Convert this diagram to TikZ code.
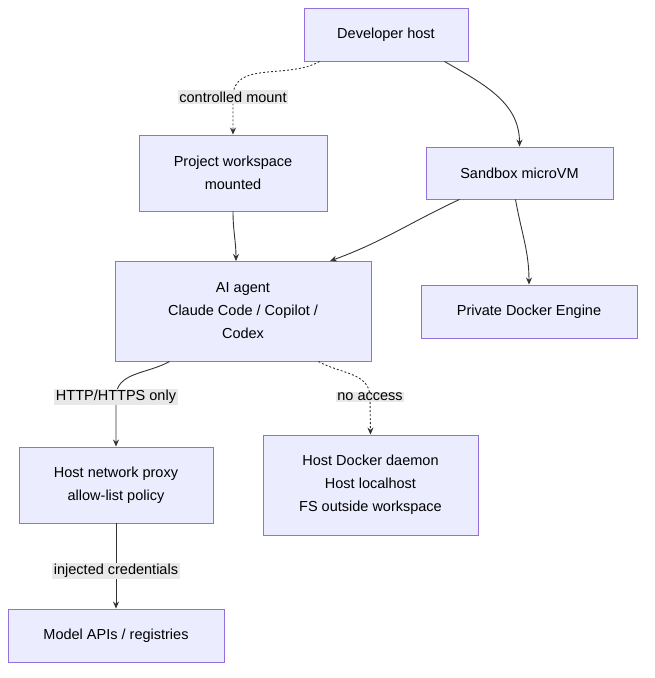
\documentclass[tikz,border=0pt]{standalone}
\usepackage{fontspec}
\setmainfont{Liberation Sans}
\usetikzlibrary{arrows.meta}
\definecolor{boxfill}{HTML}{ECECFF}
\definecolor{boxline}{HTML}{9370DB}
\definecolor{lblfill}{HTML}{E8E8E8}
\definecolor{edge}{HTML}{333333}
\tikzset{
  box/.style={draw=boxline, fill=boxfill, line width=0.9pt, align=center,
    font=\fontsize{14.5}{23}\selectfont, inner sep=0pt},
  lbl/.style={fill=lblfill, font=\fontsize{14.5}{18}\selectfont, inner sep=1.5pt},
  conn/.style={draw=edge, line width=0.9pt, -{Stealth[length=7pt,width=6pt]}},
}
\begin{document}
\begin{tikzpicture}[x=1pt,y=-1pt]
    \useasboundingbox (0,0) rectangle (654,678);

    \node[box, minimum width=164, minimum height=53] (dev) at (386,34.5) {Developer host};
    \node[box, minimum width=188, minimum height=76] (proj) at (233,173) {Project workspace\\mounted};
    \node[box, minimum width=187, minimum height=52] (vm) at (519.5,173) {Sandbox microVM};
    \node[box, minimum width=256, minimum height=100] (agent) at (243,311) {AI agent\\Claude Code / Copilot /\\Codex};
    \node[box, minimum width=216, minimum height=53] (engine) at (529,311.5) {Private Docker Engine};
    \node[box, minimum width=194, minimum height=76] (proxy) at (116,485) {Host network proxy\\allow-list policy};
    \node[box, minimum width=215, minimum height=100] (daemon) at (370.5,485) {Host Docker daemon\\Host localhost\\FS outside workspace};
    \node[box, minimum width=216, minimum height=53] (apis) at (116,635.5) {Model APIs / registries};

    \coordinate (mountlbl) at (233,97);
    \coordinate (httplbl) at (116,397);
    \coordinate (nolbl) at (370,397);
    \coordinate (credlbl) at (116,571);

    % edges
    \draw[conn, dashed, dash pattern=on 2pt off 2pt] (dev.south west)++(16,0) to[out=-150,in=90] (mountlbl) -- (proj.north);
    \draw[conn] (dev.south east)++(-24,0) to[out=-30,in=90] (vm.north);
    \draw[conn] (proj.south) to[out=-90,in=90] (236,261);
    \draw[conn] (vm.south west)++(34,0) to[out=-155,in=20] (330,261);
    \draw[conn] (vm.south)++(-4,0) to[out=-80,in=90] (engine.north);
    \draw[conn] (agent.south west)++(55,0) to[out=-150,in=90] (httplbl) -- (proxy.north);
    \draw[conn, dashed, dash pattern=on 2pt off 2pt] (agent.south east)++(-53,0) to[out=-30,in=90] (nolbl) -- (daemon.north);
    \draw[conn] (proxy.south) -- (apis.north);

    \node[lbl] at (mountlbl) {controlled mount};
    \node[lbl] at (httplbl) {HTTP/HTTPS only};
    \node[lbl] at (nolbl) {no access};
    \node[lbl] at (credlbl) {injected credentials};
\end{tikzpicture}
\end{document}
